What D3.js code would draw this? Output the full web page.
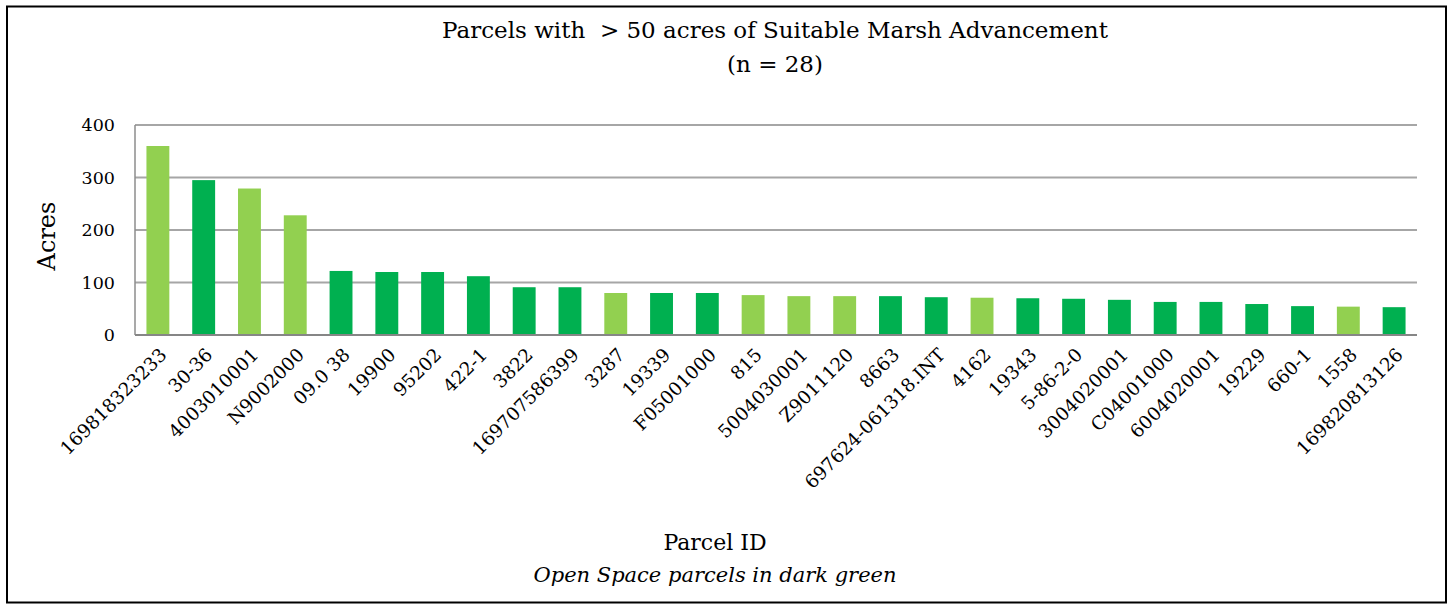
<!DOCTYPE html>
<html>
<head>
<meta charset="utf-8">
<script src="https://cdn.jsdelivr.net/npm/d3@7"></script>
<style>
  html, body { margin: 0; padding: 0; background: #fff; }
  svg { display: block; }
  text { white-space: pre; }
</style>
</head>
<body>
<svg id="chart" width="1453" height="604"></svg>
<script>
const categories = ["169818323233","30-36","4003010001","N9002000","09.0 38","19900","95202","422-1","3822","169707586399","3287","19339","F05001000","815","5004030001","Z9011120","8663","697624-061318.INT","4162","19343","5-86-2-0","3004020001","C04001000","6004020001","19229","660-1","1558","169820813126"];
const acres = [360,295,279,228,122,120,120,112,91,91,80,80,80,76,74,74,74,72,71,70,69,67,63,63,59,55,54,53];
const openSpace = [false,true,false,false,true,true,true,true,true,true,false,true,true,false,false,false,true,true,false,true,true,true,true,true,true,true,false,true];
const yTicks = [0,100,200,300,400];
const titleLines = ["Parcels with  > 50 acres of Suitable Marsh Advancement", "(n = 28)"];
const yTitle = "Acres";
const xTitle = "Parcel ID";
const xSubtitle = "Open Space parcels in dark green";

const svg = d3.select("#chart");
const serif = "'DejaVu Serif', serif";

const plot = {left: 135, right: 1417, top: 125, bottom: 335};

const x = d3.scaleBand().domain(categories).range([plot.left, plot.right]).paddingInner(0.5).paddingOuter(0.25);
const y = d3.scaleLinear().domain([0, 400]).range([plot.bottom, plot.top]);

// frame
svg.append("rect").attr("x", 7).attr("y", 6.5).attr("width", 1439).attr("height", 596)
  .attr("fill", "none").attr("stroke", "#000").attr("stroke-width", 2);

// gridlines
svg.append("g").selectAll("line").data(yTicks.filter(d => d > 0)).join("line")
  .attr("x1", plot.left).attr("x2", plot.right)
  .attr("y1", d => y(d)).attr("y2", d => y(d))
  .attr("stroke", "#a6a6a6").attr("stroke-width", 2);

// y axis line
svg.append("line").attr("x1", plot.left).attr("x2", plot.left)
  .attr("y1", y(400)).attr("y2", y(0)).attr("stroke", "#8c8c8c").attr("stroke-width", 1.5);

// bars
svg.append("g").selectAll("rect").data(categories).join("rect")
  .attr("x", d => x(d)).attr("width", x.bandwidth())
  .attr("y", (d, i) => y(acres[i])).attr("height", (d, i) => y(0) - y(acres[i]))
  .attr("fill", (d, i) => openSpace[i] ? "#00b050" : "#92d050");

// x axis line
svg.append("line").attr("x1", plot.left).attr("x2", plot.right)
  .attr("y1", y(0)).attr("y2", y(0)).attr("stroke", "#868686").attr("stroke-width", 2);

// y tick labels
const yAxis = d3.axisLeft(y).tickValues(yTicks).tickSize(0).tickPadding(20);
const yg = svg.append("g").attr("transform", `translate(${plot.left},0)`).call(yAxis);
yg.select(".domain").remove();
yg.selectAll("text").attr("font-family", serif).attr("font-size", 17.5).attr("fill", "#000");

// x tick labels
const xAxis = d3.axisBottom(x).tickSize(0).tickPadding(0);
const xg = svg.append("g").attr("transform", `translate(0,${plot.bottom})`).call(xAxis);
xg.select(".domain").remove();
xg.selectAll("text")
  .attr("font-family", serif).attr("font-size", 18.5).attr("fill", "#000")
  .attr("text-anchor", "end").attr("dy", 0).attr("y", 0)
  .attr("transform", "translate(10,21) rotate(-45)");

// title
svg.append("g").selectAll("text").data(titleLines).join("text")
  .attr("x", 775).attr("y", (d, i) => 38 + i * 34)
  .attr("text-anchor", "middle").attr("font-family", serif).attr("font-size", 23)
  .attr("fill", "#000").text(d => d);

// y title
svg.append("text").attr("transform", "translate(55,236) rotate(-90)")
  .attr("text-anchor", "middle").attr("font-family", serif).attr("font-size", 24)
  .attr("fill", "#000").text(yTitle);

// x title
svg.append("text").attr("x", 715).attr("y", 550)
  .attr("text-anchor", "middle").attr("font-family", serif).attr("font-size", 22)
  .attr("fill", "#000").text(xTitle);
svg.append("text").attr("x", 715).attr("y", 582)
  .attr("text-anchor", "middle").attr("font-family", serif).attr("font-size", 21)
  .attr("font-style", "italic").attr("fill", "#000").text(xSubtitle);
</script>
</body>
</html>
